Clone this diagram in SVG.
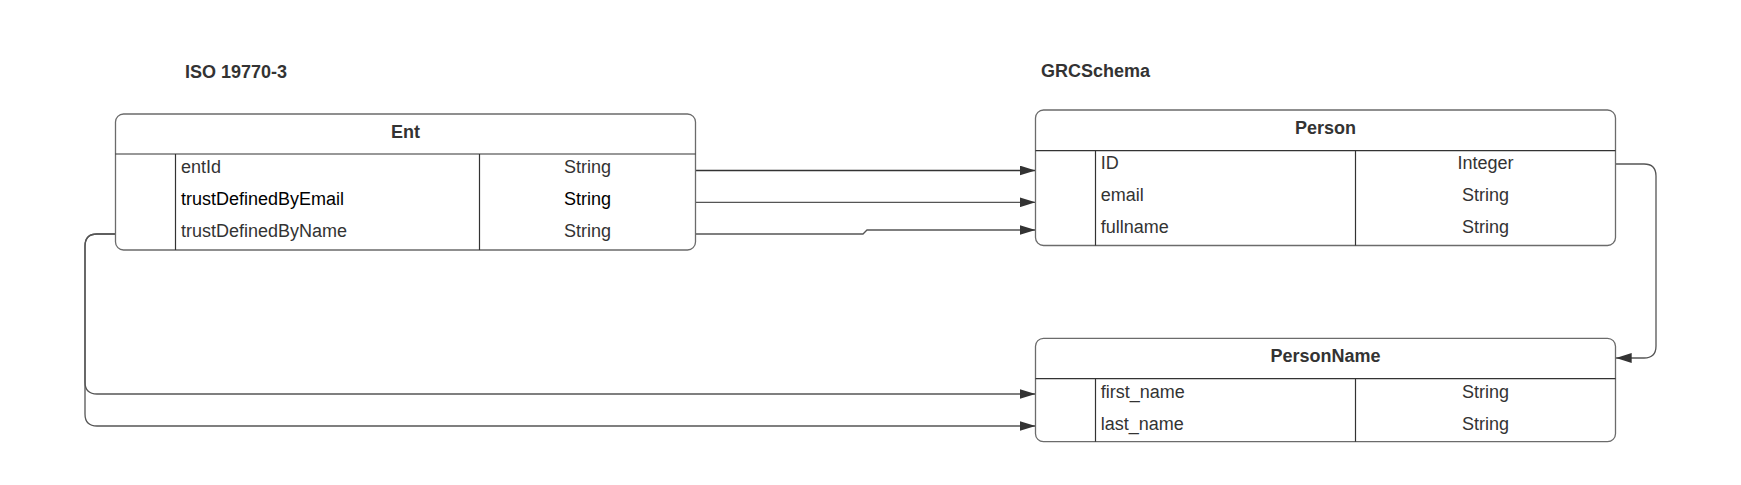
<svg xmlns="http://www.w3.org/2000/svg" width="1741" height="485" viewBox="0 0 1741 485">
<style>
.box{fill:#fff;stroke:#6b6b6b;stroke-width:1.3}
.div{stroke:#333;stroke-width:1.2;fill:none}
.t{font-family:"Liberation Sans",Arial,sans-serif;font-size:18px;fill:#333}
.b{font-weight:bold}
.k{fill:#000}
.m{text-anchor:middle}
.c{fill:none;stroke:#555;stroke-width:1.3}
</style>
<defs>
<marker id="arr" viewBox="0 0 16 10" refX="16" refY="5" markerWidth="16" markerHeight="10" markerUnits="userSpaceOnUse" orient="auto">
<path d="M0,0 L16,5 L0,10 z" fill="#333"/>
</marker>
</defs>
<rect width="1741" height="485" fill="#fff"/>
<text class="t b" x="185" y="77.5">ISO 19770-3</text>
<text class="t b" x="1041" y="77">GRCSchema</text>
<g id="connectors">
<path class="c" style="stroke:#333" d="M695.7 170.5 H1035.5" marker-end="url(#arr)"/>
<path class="c" d="M695.7 202.3 H1035.5" marker-end="url(#arr)"/>
<path class="c" d="M695.7 234 H863 L867 230 H1035.5" marker-end="url(#arr)"/>
<path class="c" d="M1615.7 164 H1644 Q1656 164 1656 176 V346 Q1656 358 1644 358 H1615.7" marker-end="url(#arr)"/>
<path class="c" d="M115.3 234 H97 Q85 234 85 246 V382 Q85 394 97 394 H1035.5" marker-end="url(#arr)"/>
<path class="c" d="M115.3 234 H97 Q85 234 85 246 V414 Q85 426 97 426 H1035.5" marker-end="url(#arr)"/>
</g>
<g id="ent">
<rect class="box" x="115.5" y="114" width="580" height="136" rx="8"/>
<path class="div" d="M115.5 154 H695.5 M175.5 154 V250 M479.5 154 V250"/>
<text class="t b m" x="405.5" y="138">Ent</text>
<text class="t" x="181" y="173.3">entId</text>
<text class="t k" x="181" y="205">trustDefinedByEmail</text>
<text class="t" x="181" y="236.7">trustDefinedByName</text>
<text class="t m" x="587.5" y="173.3">String</text>
<text class="t k m" x="587.5" y="205">String</text>
<text class="t m" x="587.5" y="236.7">String</text>
</g>
<g id="person">
<rect class="box" x="1035.5" y="110" width="580" height="135.5" rx="8"/>
<path class="div" d="M1035.5 150.7 H1615.5 M1095.5 150.7 V245.5 M1355.5 150.7 V245.5"/>
<text class="t b m" x="1325.5" y="134">Person</text>
<text class="t" x="1100.7" y="169.3">ID</text>
<text class="t" x="1100.7" y="201">email</text>
<text class="t" x="1100.7" y="232.7">fullname</text>
<text class="t m" x="1485.5" y="169.3">Integer</text>
<text class="t m" x="1485.5" y="201">String</text>
<text class="t m" x="1485.5" y="232.7">String</text>
</g>
<g id="personname">
<rect class="box" x="1035.5" y="338.3" width="580" height="103.4" rx="8"/>
<path class="div" d="M1035.5 378.7 H1615.5 M1095.5 378.7 V441.7 M1355.5 378.7 V441.7"/>
<text class="t b m" x="1325.5" y="362">PersonName</text>
<text class="t" x="1100.7" y="397.7">first_name</text>
<text class="t" x="1100.7" y="430">last_name</text>
<text class="t m" x="1485.5" y="397.7">String</text>
<text class="t m" x="1485.5" y="430">String</text>
</g>
</svg>
